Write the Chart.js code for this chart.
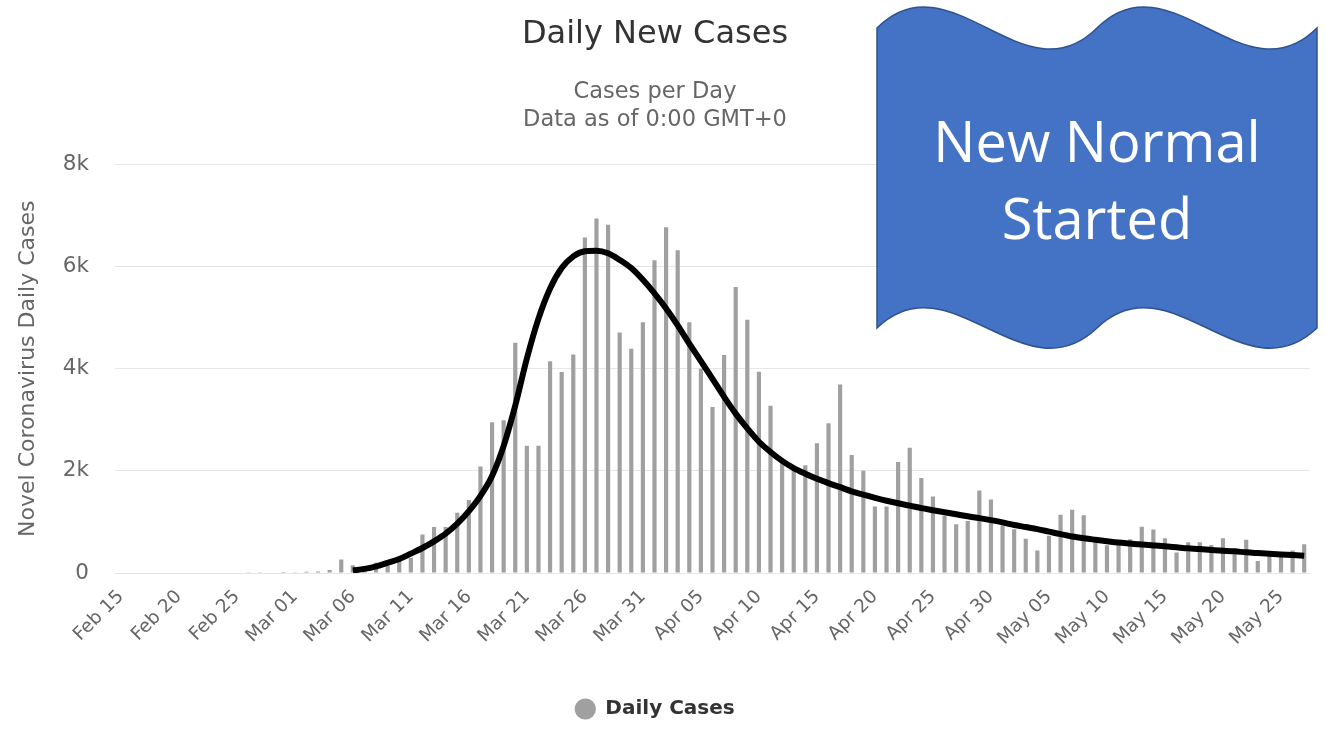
<!DOCTYPE html>
<html>
<head>
<meta charset="utf-8">
<title>Daily New Cases</title>
<script src="https://cdn.jsdelivr.net/npm/chart.js@4.4.1/dist/chart.umd.min.js"></script>
<style>
  html, body { margin: 0; padding: 0; background: #fff; }
  #wrap { width: 1326px; height: 731px; position: relative; }
</style>
</head>
<body>
<div id="wrap"><canvas id="dailyChart"></canvas></div>
<script>
// categories: one per day, Feb 15 - May 27
var dates = [
  'Feb 15','Feb 16','Feb 17','Feb 18','Feb 19','Feb 20','Feb 21','Feb 22','Feb 23','Feb 24','Feb 25','Feb 26','Feb 27','Feb 28','Feb 29',
  'Mar 01','Mar 02','Mar 03','Mar 04','Mar 05','Mar 06','Mar 07','Mar 08','Mar 09','Mar 10','Mar 11','Mar 12','Mar 13','Mar 14','Mar 15',
  'Mar 16','Mar 17','Mar 18','Mar 19','Mar 20','Mar 21','Mar 22','Mar 23','Mar 24','Mar 25','Mar 26','Mar 27','Mar 28','Mar 29','Mar 30','Mar 31',
  'Apr 01','Apr 02','Apr 03','Apr 04','Apr 05','Apr 06','Apr 07','Apr 08','Apr 09','Apr 10','Apr 11','Apr 12','Apr 13','Apr 14','Apr 15',
  'Apr 16','Apr 17','Apr 18','Apr 19','Apr 20','Apr 21','Apr 22','Apr 23','Apr 24','Apr 25','Apr 26','Apr 27','Apr 28','Apr 29','Apr 30',
  'May 01','May 02','May 03','May 04','May 05','May 06','May 07','May 08','May 09','May 10','May 11','May 12','May 13','May 14','May 15',
  'May 16','May 17','May 18','May 19','May 20','May 21','May 22','May 23','May 24','May 25','May 26','May 27'
];

// daily new cases (bars)
var dailyCases = [
  0, 0, 0, 0, 0, 0, 0, 0, 0, 0, 0, 5, 15, 10, 20,
  15, 25, 30, 60, 262, 150, 130, 200, 140, 250, 300, 755, 900, 900, 1180,
  1430, 2085, 2950, 2990, 4510, 2490, 2490, 4145, 3935, 4280, 6570, 6940, 6820, 4710, 4390, 4910,
  6125, 6770, 6320, 4910, 4000, 3250, 4270, 5600, 4960, 3940, 3275, 2210, 2045, 2110,
  2540, 2930, 3690, 2310, 2000, 1300, 1300, 2175, 2450, 1860, 1500, 1120, 955, 1020, 1615, 1440,
  930, 855, 670, 440, 730, 1140, 1240, 1130, 700, 545, 600, 660, 905, 850, 680,
  400, 600, 600, 550, 680, 460, 650, 235, 360, 390, 440, 565
];

// hand-drawn trend curve (starts Mar 06)
var trendCases = [
  null, null, null, null, null, null, null, null, null, null, null, null, null, null, null,
  null, null, null, null, null, 50, 80, 130, 200, 275, 380, 490, 620, 770, 965,
  1210, 1510, 1900, 2490, 3280, 4200, 4980, 5570, 5970, 6200, 6300, 6310, 6260, 6130, 5970, 5740,
  5475, 5180, 4850, 4490, 4150, 3800, 3450, 3120, 2830, 2570, 2370, 2195, 2055, 1945,
  1845, 1760, 1680, 1600, 1535, 1470, 1415, 1365, 1320, 1270, 1230, 1190, 1150, 1110, 1075, 1035,
  990, 940, 900, 860, 810, 760, 715, 680, 650, 622, 596, 576, 556, 540, 523,
  503, 483, 470, 450, 437, 424, 404, 390, 377, 364, 351, 338
];

var yTicks = [0, 2000, 4000, 6000, 8000];
var bannerLines = ['New Normal', 'Started'];

Chart.defaults.font.family = "'DejaVu Sans', sans-serif";
Chart.defaults.color = '#666666';

// wavy "New Normal" banner painted over the chart
var bannerPlugin = {
  id: 'banner',
  afterDraw: function(chart) {
    var ctx = chart.ctx;
    var L = 877, R = 1317, top = 28, bot = 328;
    var seg = (R - L) / 2;
    ctx.save();
    ctx.beginPath();
    ctx.moveTo(L, top);
    for (var i = 0; i < 2; i++) {
      var x0 = L + i * seg;
      ctx.bezierCurveTo(x0 + seg / 3, top - 73, x0 + 2 * seg / 3, top + 73, x0 + seg, top);
    }
    ctx.lineTo(R, bot);
    for (var j = 1; j >= 0; j--) {
      var x1 = L + j * seg;
      ctx.bezierCurveTo(x1 + 2 * seg / 3, bot + 70, x1 + seg / 3, bot - 70, x1, bot);
    }
    ctx.closePath();
    ctx.fillStyle = '#4472C4';
    ctx.fill();
    ctx.lineWidth = 1.5;
    ctx.strokeStyle = '#2F528F';
    ctx.stroke();

    ctx.fillStyle = '#ffffff';
    ctx.font = "56px 'Open Sans', sans-serif";
    ctx.textAlign = 'center';
    ctx.textBaseline = 'alphabetic';
    ctx.fillText(bannerLines[0], 1097, 162);
    ctx.fillText(bannerLines[1], 1097, 239);
    ctx.restore();
  }
};

var ctx = document.getElementById('dailyChart').getContext('2d');
var chart = new Chart(ctx, {
  type: 'bar',
  data: {
    labels: dates,
    datasets: [{
      type: 'bar',
      label: 'Daily Cases',
      data: dailyCases,
      backgroundColor: '#a0a0a0',
      borderWidth: 0,
      barPercentage: 0.36,
      categoryPercentage: 1.0,
      order: 1
    }, {
      type: 'line',
      label: 'Trend',
      data: trendCases,
      borderColor: '#000000',
      borderWidth: 6,
      pointRadius: 0,
      fill: false,
      cubicInterpolationMode: 'monotone',
      order: 0
    }]
  },
  options: {
    responsive: true,
    maintainAspectRatio: false,
    animation: false,
    layout: { padding: { left: 0, right: 16, top: 0, bottom: 2 } },
    plugins: {
      title: {
        display: true,
        text: 'Daily New Cases',
        color: '#333333',
        font: { size: 32, weight: 'normal' },
        padding: { top: 15, bottom: 10 }
      },
      subtitle: {
        display: true,
        text: ['Cases per Day', 'Data as of 0:00 GMT+0'],
        color: '#666666',
        font: { size: 22.5, lineHeight: 28 / 22.5 },
        padding: { top: 15, bottom: 30 }
      },
      legend: {
        position: 'bottom',
        labels: {
          usePointStyle: true,
          pointStyle: 'circle',
          boxWidth: 20,
          boxHeight: 15,
          padding: 10,
          color: '#333333',
          font: { size: 20, weight: 'bold' },
          filter: function(item) { return item.datasetIndex === 0; }
        }
      },
      tooltip: { enabled: false }
    },
    scales: {
      x: {
        grid: { display: false },
        border: { display: false },
        ticks: {
          autoSkip: false,
          minRotation: 45,
          maxRotation: 45,
          padding: 5,
          labelOffset: 0,
          color: '#666666',
          font: { size: 18.5 },
          callback: function(value, index) {
            return index % 5 === 0 ? this.getLabelForValue(value) : null;
          }
        },
        afterFit: function(scale) { scale.height = 116; }
      },
      y: {
        min: 0,
        max: 8000,
        afterBuildTicks: function(scale) {
          scale.ticks = yTicks.map(function(v) { return { value: v }; });
        },
        grid: { color: '#e6e6e6', drawTicks: false },
        border: { display: false },
        ticks: {
          padding: 26,
          color: '#666666',
          font: { size: 21.5 },
          callback: function(v) { return v === 0 ? '0' : (v / 1000) + 'k'; }
        },
        title: {
          display: true,
          text: 'Novel Coronavirus Daily Cases',
          color: '#666666',
          font: { size: 22 },
          padding: { top: 15, bottom: 0 }
        },
        afterFit: function(scale) { scale.width = 115; }
      }
    }
  },
  plugins: [bannerPlugin]
});
</script>
</body>
</html>
